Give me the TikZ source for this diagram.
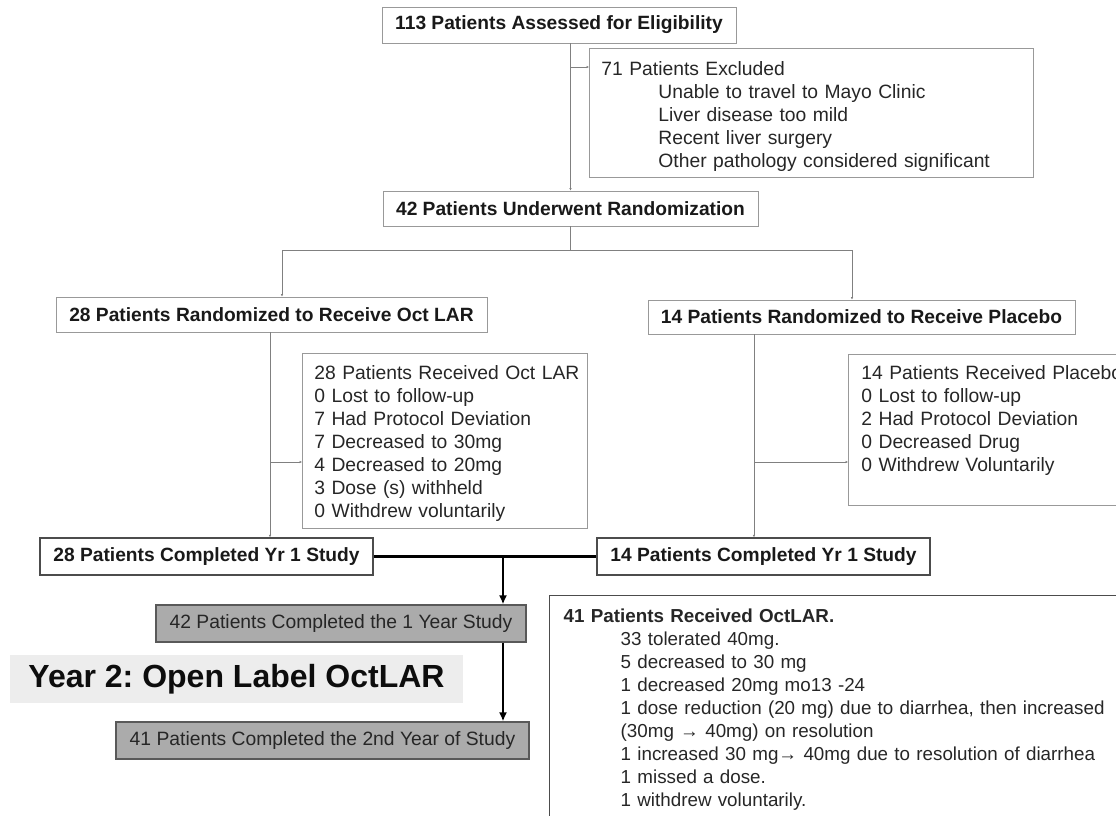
\documentclass[tikz,border=0pt]{standalone}
\usepackage{fontspec}
\setmainfont{Liberation Sans}
\usetikzlibrary{arrows.meta}
\frenchspacing

\begin{document}
\begin{tikzpicture}[x=1pt,y=-1pt]

\tikzset{hdr/.style = {draw=black!40, line width=0.8pt, inner sep=0pt, text=black!90,
  font=\bfseries\fontsize{19.2}{23}\selectfont}}
\tikzset{donebox/.style = {hdr, draw=black!70, line width=1.4pt, minimum height=37pt}}
\tikzset{listbox/.style = {draw=black!40, line width=0.8pt, anchor=north west, align=left,
  inner xsep=12pt, inner ysep=0pt, text=black!85, font=\fontsize{19.3}{23}\selectfont}}
\tikzset{graybox/.style = {draw=black!65, fill=black!33, line width=1.2pt, inner sep=0pt,
  minimum height=37pt, text=black!85, font=\fontsize{19.3}{23}\selectfont}}
\tikzset{conn/.style = {draw=black!50, line width=0.8pt, -{Latex[length=2.5pt,width=2.5pt]}}}
\tikzset{line/.style = {draw=black!50, line width=0.8pt}}
\tikzset{bold/.style = {draw=black, line width=2.6pt, -{Latex[length=9pt,width=8pt]}}}

\path[use as bounding box, clip] (0,0) rectangle (1116,816);

% year 1 boxes
\node[hdr, minimum width=354pt, minimum height=36pt] (elig) at (559,25) {113 Patients Assessed for Eligibility};
\node[listbox, text width=420pt, text height=27pt, text depth=102pt] (excl) at (589,48)
  {71 Patients Excluded\\
   \hspace*{57pt}Unable to travel to Mayo Clinic\\
   \hspace*{57pt}Liver disease too mild\\
   \hspace*{57pt}Recent liver surgery\\
   \hspace*{57pt}Other pathology considered significant};
\node[hdr, minimum width=375pt, minimum height=35pt] (rand) at (570.5,208.5) {42 Patients Underwent Randomization};
\node[hdr, minimum width=431pt, minimum height=35pt] (octrand) at (271.5,314.5) {28 Patients Randomized to Receive Oct LAR};
\node[hdr, minimum width=427pt, minimum height=34pt] (plarand) at (861.5,317) {14 Patients Randomized to Receive Placebo};
\node[listbox, text width=261pt, text height=26pt, text depth=149pt] (octlist) at (302,353)
  {\mbox{28 Patients Received Oct LAR}\\
   0 Lost to follow-up\\
   7 Had Protocol Deviation\\
   7 Decreased to 30mg\\
   4 Decreased to 20mg\\
   3 Dose (s) withheld\\
   0 Withdrew voluntarily};
\node[listbox, inner xsep=13pt, text width=300pt, text height=25pt, text depth=126pt] (plalist) at (848,354)
  {\mbox{14 Patients Received Placebo}\\
   0 Lost to follow-up\\
   2 Had Protocol Deviation\\
   0 Decreased Drug\\
   0 Withdrew Voluntarily};
\node[donebox, minimum width=333pt] (octdone) at (206.5,556.5) {28 Patients Completed Yr 1 Study};
\node[donebox, minimum width=333pt] (pladone) at (763.5,556.5) {14 Patients Completed Yr 1 Study};

% year 2 boxes
\node[graybox, minimum width=370pt] (yrone) at (341,623.5) {42 Patients Completed the 1 Year Study};
\node[fill=black!7, inner sep=0pt, minimum width=453pt, minimum height=48pt, text=black!95,
  font=\bfseries\fontsize{32}{38}\selectfont] (yrlabel) at (236.5,679) {Year 2: Open Label OctLAR};
\node[graybox, minimum width=413pt] (yrtwo) at (322.5,740.5) {41 Patients Completed the 2nd Year of Study};
\node[listbox, draw=black!70, line width=1.4pt, inner xsep=14pt, text width=560pt,
  text height=27pt, text depth=260pt, font=\fontsize{18.8}{23}\selectfont] (octlar) at (549,595)
  {\textbf{41 Patients Received OctLAR.}\\
   \hspace*{57pt}33 tolerated 40mg.\\
   \hspace*{57pt}5 decreased to 30 mg\\
   \hspace*{57pt}1 decreased 20mg mo13 -24\\
   \hspace*{57pt}1 dose reduction (20 mg) due to diarrhea, then increased\\
   \hspace*{57pt}(30mg → 40mg) on resolution\\
   \hspace*{57pt}1 increased 30 mg→ 40mg due to resolution of diarrhea\\
   \hspace*{57pt}1 missed a dose.\\
   \hspace*{57pt}1 withdrew voluntarily.};

% connectors
\coordinate (exbr) at (570.5,67);
\coordinate (splitL) at (282,250);
\coordinate (splitR) at (852,250);
\coordinate (octbr) at (270,462);
\coordinate (platop) at (754,334);
\coordinate (plabr) at (754,462);
\coordinate (merge) at (503,556.5);

\draw[conn] (rand.north |- elig.south) -- (rand.north);
\draw[conn] (exbr) -- (exbr -| excl.west);
\draw[line] (rand.south) -- (rand.south |- splitL);
\draw[line] (splitL) -- (splitR);
\draw[conn] (splitL) -- (splitL |- octrand.north);
\draw[conn] (splitR) -- (splitR |- plarand.north);
\draw[conn] (octbr |- octrand.south) -- (octbr |- octdone.north);
\draw[conn] (octbr) -- (octbr -| octlist.west);
\draw[conn] (platop) -- (platop |- pladone.north);
\draw[conn] (plabr) -- (plabr -| plalist.west);
\draw[draw=black, line width=2.6pt] (octdone.east) -- (pladone.west);
\draw[bold] (merge) -- (merge |- yrone.north);
\draw[bold] (merge |- yrone.south) -- (merge |- yrtwo.north);

\end{tikzpicture}
\end{document}
